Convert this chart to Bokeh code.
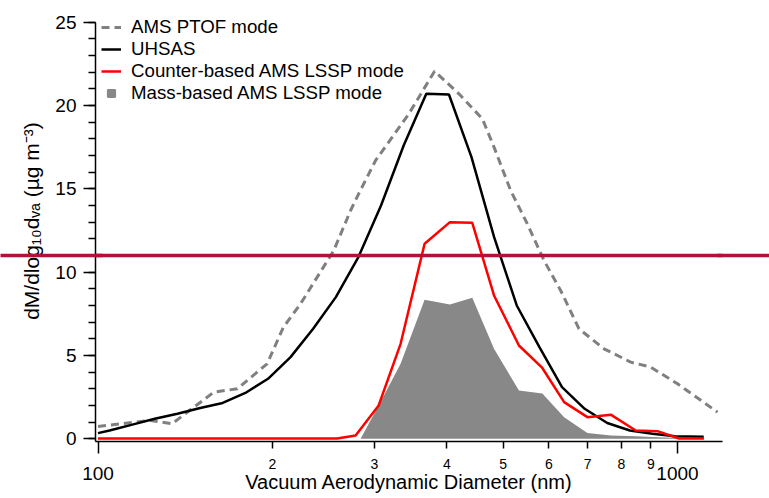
import numpy as np
from bokeh.plotting import figure
from bokeh.models import (Range1d, FixedTicker, SingleIntervalTicker, Legend,
                          LegendItem, LogAxis, LinearAxis, Span)
from bokeh.embed import file_html
from bokeh.resources import INLINE

# ---------------- data ----------------
ptof_d = [100, 123.1, 134.2, 158.4, 173.9, 195.8, 208.9, 223.6, 238.9, 255.2,
          272.8, 281.7, 301.3, 321.9, 343.9, 357.9, 380.9, 419.6, 460.6, 482.4,
          515.3, 550.7, 588.4, 628.6, 676.2, 746.9, 830.4, 899.2, 1000, 1172.6]
ptof_v = [0.74, 1.1, 0.9, 2.8, 3.0, 4.5, 6.7, 8.1, 9.7, 11.3,
          13.7, 14.7, 16.7, 18.1, 19.5, 20.5, 22.06, 20.7, 19.2, 17.5,
          14.9, 12.9, 10.7, 8.9, 6.6, 5.4, 4.6, 4.3, 3.3, 1.6]

uhsas_d = [100, 104.7, 114.6, 125.3, 137.1, 150.1, 164.1, 179.6, 196.5, 214.9,
           235.1, 257.3, 281.4, 307.9, 336.9, 368.6, 403.3, 441.1, 482.6, 528.0,
           577.8, 632.1, 691.6, 756.6, 827.7, 905.6, 990.6, 1110]
uhsas_v = [0.34, 0.5, 0.85, 1.2, 1.5, 1.85, 2.15, 2.75, 3.6, 4.9,
           6.6, 8.5, 10.9, 14.0, 17.6, 20.7, 20.66, 16.9, 12.1, 8.0,
           5.5, 3.1, 1.8, 0.95, 0.5, 0.3, 0.15, 0.12]

counter_d = [100, 258.6, 278.3, 305.0, 332.8, 366.1, 404.9, 442.5, 482.4, 532.6,
             584.5, 637.4, 699.2, 767.1, 847.2, 923.8, 1006.5, 1111]
counter_v = [0.02, 0.02, 0.2, 2.0, 5.7, 11.7, 13.0, 12.96, 8.6, 5.6,
             4.25, 2.2, 1.3, 1.45, 0.5, 0.46, 0.02, 0.02]

mass_d = [283.9, 305.0, 332.8, 366.1, 404.9, 442.5, 482.4, 532.6, 584.5, 637.4,
          699.2, 767.1, 847.2, 923.8, 1006.5, 1111]
mass_v = [0.0, 2.0, 4.5, 8.34, 8.06, 8.46, 5.4, 2.9, 2.72, 1.3,
          0.35, 0.2, 0.15, 0.1, 0.05, 0.02]

x_decade_ticks = [100, 1000]
x_decade_labels = ["100", "1000"]
x_minor_ticks = [200, 300, 400, 500, 600, 700, 800, 900]
x_minor_labels = ["2", "3", "4", "5", "6", "7", "8", "9"]
y_axis_top = 25
threshold = 11

FONT = "Liberation Sans"
THR_COLOR = "#B3103A"

# frame reaches the top edge so the legend is not clipped; the y axis line stops at 25
p = figure(width=769, height=498, x_axis_type="log",
           x_range=Range1d(99, 1196), y_range=Range1d(-0.162, 26.3),
           output_backend="svg", toolbar_location=None,
           min_border_left=95, min_border_right=47,
           min_border_top=0, min_border_bottom=57)
p.outline_line_color = None
p.xgrid.grid_line_color = None
p.ygrid.grid_line_color = None
p.background_fill_color = "white"
p.border_fill_color = "white"

# x axis: short labelled ticks 2..9, long unlabelled ticks at the decades
xa = p.xaxis[0]
xa.ticker = FixedTicker(ticks=x_minor_ticks, minor_ticks=x_decade_ticks)
xa.major_label_overrides = {t: l for t, l in zip(x_minor_ticks, x_minor_labels)}
xa.major_tick_out = 7
xa.major_tick_in = 0
xa.minor_tick_out = 12
xa.minor_tick_in = 0
xa.major_tick_line_color = "black"
xa.minor_tick_line_color = "black"
xa.major_tick_line_width = 1.5
xa.minor_tick_line_width = 1.5
xa.axis_line_width = 1.5
xa.axis_line_color = "black"
xa.major_label_text_font = FONT
xa.major_label_text_font_size = "14px"
xa.major_label_text_color = "black"
xa.major_label_standoff = 5

# second row: decade labels and the axis title
xa2 = LogAxis(ticker=FixedTicker(ticks=x_decade_ticks),
              major_label_overrides={t: l for t, l in zip(x_decade_ticks, x_decade_labels)})
xa2.axis_line_color = None
xa2.major_tick_line_color = None
xa2.minor_tick_line_color = None
xa2.major_tick_out = 0
xa2.major_tick_in = 0
xa2.minor_tick_out = 0
xa2.minor_tick_in = 0
xa2.major_label_standoff = -5
xa2.major_label_text_font = FONT
xa2.major_label_text_font_size = "19px"
xa2.major_label_text_color = "black"
xa2.axis_label = "Vacuum Aerodynamic Diameter (nm)"
xa2.axis_label_text_font = FONT
xa2.axis_label_text_font_size = "20px"
xa2.axis_label_text_font_style = "normal"
xa2.axis_label_text_color = "black"
xa2.axis_label_standoff = -12
p.add_layout(xa2, "below")

# y axis
ya = p.yaxis[0]
ya.ticker = SingleIntervalTicker(interval=5, num_minor_ticks=5)
ya.bounds = (-0.162, y_axis_top)
ya.major_tick_out = 12
ya.major_tick_in = 0
ya.minor_tick_out = 7
ya.minor_tick_in = 0
ya.major_tick_line_width = 1.5
ya.minor_tick_line_width = 1.5
ya.axis_line_width = 1.5
ya.major_tick_line_color = "black"
ya.minor_tick_line_color = "black"
ya.axis_line_color = "black"
ya.major_label_text_font = FONT
ya.major_label_text_font_size = "19px"
ya.major_label_text_color = "black"
ya.major_label_standoff = 7
ya.axis_label = "dM/dlog\u2081\u2080d\u1d65\u2090 (\u00b5g m\u207b\u00b3)"
ya.axis_label_text_font = FONT
ya.axis_label_text_font_size = "21px"
ya.axis_label_text_font_style = "normal"
ya.axis_label_text_color = "black"
ya.axis_label_standoff = 9

# series
r_mass = p.varea(x=mass_d, y1=0, y2=mass_v, fill_color="#888888", fill_alpha=1)
r_ptof = p.line(ptof_d, ptof_v, line_color="#808080", line_width=3,
                line_dash="8 5")
r_uhsas = p.line(uhsas_d, uhsas_v, line_color="black", line_width=2.5)
r_counter = p.line(counter_d, counter_v, line_color="#FF0000", line_width=2.5)
# legend key only (point lies below the visible range)
r_mass_key = p.scatter(x=[mass_d[0]], y=[-50], marker="square", size=10,
                       fill_color="#888888", line_color="#888888",
                       line_width=2)

# threshold line: inside the frame ...
p.add_layout(Span(location=threshold, dimension="width", line_color=THR_COLOR,
                  line_width=3.5))


# ... and continued through the side margins with single long axis ticks
def thr_axis(tick_out, tick_in):
    ax = LinearAxis(ticker=FixedTicker(ticks=[threshold]),
                    major_label_overrides={threshold: ""})
    ax.axis_line_color = None
    ax.major_tick_line_color = THR_COLOR
    ax.major_tick_line_width = 3.5
    ax.major_tick_line_cap = "butt"
    ax.major_tick_out = tick_out
    ax.major_tick_in = tick_in
    ax.minor_tick_line_color = None
    ax.minor_tick_out = 0
    ax.minor_tick_in = 0
    ax.major_label_standoff = 0
    ax.major_label_text_font_size = "1px"
    return ax


p.add_layout(thr_axis(17, 85), "left")
p.add_layout(thr_axis(47, 5), "right")

legend = Legend(items=[
    LegendItem(label="AMS PTOF mode", renderers=[r_ptof]),
    LegendItem(label="UHSAS", renderers=[r_uhsas]),
    LegendItem(label="Counter-based AMS LSSP mode", renderers=[r_counter]),
    LegendItem(label="Mass-based AMS LSSP mode", renderers=[r_mass_key]),
], location=(6, 337), border_line_color=None, background_fill_alpha=0,
    label_text_font=FONT, label_text_font_size="18.7px",
    label_text_color="black", glyph_width=20, glyph_height=18,
    label_height=18, label_standoff=10, spacing=0, padding=0, margin=0)
p.add_layout(legend)

open("out.html", "w").write(file_html(p, INLINE))
